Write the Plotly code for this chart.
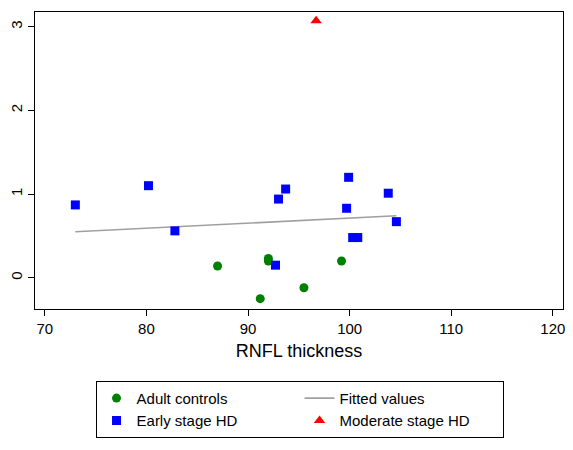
import plotly.graph_objects as go

# Data
adult_x = [87.0, 92.0, 92.0, 91.2, 95.5, 99.2]
adult_y = [0.14, 0.23, 0.20, -0.25, -0.12, 0.20]

early_x = [73.0, 80.2, 82.8, 93.0, 93.7, 92.7, 99.9, 99.7, 100.3, 100.8, 103.8, 104.6]
early_y = [0.87, 1.10, 0.56, 0.94, 1.06, 0.15, 1.20, 0.83, 0.48, 0.48, 1.01, 0.67]

moderate_x = [96.7]
moderate_y = [3.07]

fit_x = [73.0, 104.6]
fit_y = [0.55, 0.74]

x_ticks = [70, 80, 90, 100, 110, 120]
y_ticks = [0, 1, 2, 3]

FONT = "Liberation Sans, Arial, sans-serif"

fig = go.Figure()
fig.add_trace(go.Scatter(x=adult_x, y=adult_y, mode="markers", name="Adult controls",
                         marker=dict(symbol="circle", size=9, color="#008000")))
fig.add_trace(go.Scatter(x=fit_x, y=fit_y, mode="lines", name="Fitted values",
                         line=dict(color="#a0a0a0", width=1.6)))
fig.add_trace(go.Scatter(x=early_x, y=early_y, mode="markers", name="Early stage HD",
                         marker=dict(symbol="square", size=9, color="#0000ff")))
fig.add_trace(go.Scatter(x=moderate_x, y=moderate_y, mode="markers", name="Moderate stage HD",
                         marker=dict(symbol="triangle-up", size=10, color="#ff0000")))

fig.update_layout(
    width=573, height=450,
    margin=dict(l=34, r=8, t=12, b=141),
    paper_bgcolor="white", plot_bgcolor="white",
    font=dict(family=FONT, size=15, color="black"),
    showlegend=True,
    legend=dict(orientation="h", x=0.501, xanchor="center", y=-0.242, yanchor="top",
                bordercolor="black", borderwidth=1, bgcolor="white",
                entrywidth=158, entrywidthmode="pixels",
                font=dict(size=15), traceorder="normal", tracegroupgap=0),
)
fig.update_xaxes(range=[69.03, 121.0], tickvals=x_ticks, ticks="outside", ticklen=6,
                 tickcolor="black", showgrid=False, zeroline=False,
                 showline=True, linecolor="black", linewidth=1.3, mirror=True,
                 title=dict(text="RNFL thickness", standoff=8), tickfont=dict(size=15))
fig.update_yaxes(range=[-0.374, 3.176], tickvals=y_ticks, ticks="outside", ticklen=6,
                 tickcolor="black", showgrid=False, zeroline=False,
                 showline=True, linecolor="black", linewidth=1.3, mirror=True,
                 tickangle=-90, tickfont=dict(size=15))

fig.write_html("out.html")
